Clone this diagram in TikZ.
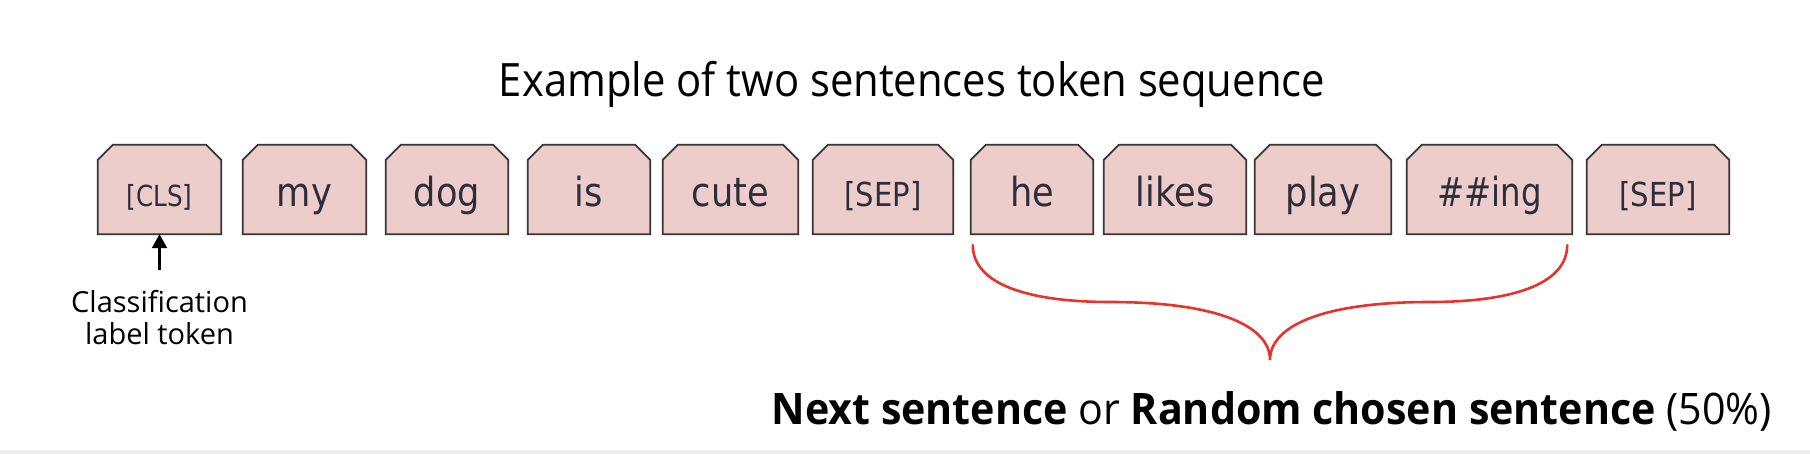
\documentclass[tikz,border=0pt]{standalone}
\usepackage{fontspec}
\usepackage{graphicx}
\setmainfont{Open Sans}
\newfontfamily\tokfont{DejaVu Sans}
\usetikzlibrary{arrows.meta,backgrounds}
\definecolor{tokfill}{HTML}{EDCCCC}
\definecolor{tokline}{HTML}{363636}
\definecolor{toktext}{HTML}{2E2E3A}
\definecolor{bracered}{HTML}{E8322B}
\definecolor{bandgray}{HTML}{EFEFEF}
\newcommand\tokw[2][0.88]{\scalebox{#1}[1]{#2}}
\begin{document}
\begin{tikzpicture}[x=1pt,y=-1pt,
  tok/.style={inner sep=0pt, minimum height=89pt, text height=35pt, text depth=0pt,
    font=\tokfont\fontsize{40}{40}\selectfont, text=toktext},
  smalltok/.style={tok, font=\tokfont\fontsize{29}{29}\selectfont},
  septok/.style={tok, font=\tokfont\fontsize{33}{33}\selectfont},
  tokshape/.style={fill=tokfill, draw=tokline, line width=1.8pt, line join=miter},
  uparrow/.style={line width=2.4pt, -{Triangle[width=15pt,length=14pt]}},
  bracepath/.style={draw=bracered, line width=2.6pt, line cap=round}
]
\begin{scope}[on background layer]
  \fill[white] (0,0) rectangle (1810,454);
  \fill[bandgray] (0,450) rectangle (1810,454);
\end{scope}

% title
\node[anchor=base, inner sep=0pt, font=\fontsize{46}{46}\selectfont] (title) at (912,97)
  {\resizebox{826pt}{\height}{Example of two sentences token sequence}};

% tokens
\node[smalltok, minimum width=123pt] (t1)  at (159.5,189.5) {\tokw[0.85]{[CLS]}};
\node[tok,      minimum width=123pt] (t2)  at (304.5,189.5) {\tokw{my}};
\node[tok,      minimum width=122pt] (t3)  at (447,189.5)   {\tokw{dog}};
\node[tok,      minimum width=122pt] (t4)  at (589,189.5)   {\tokw{is}};
\node[tok,      minimum width=135pt] (t5)  at (730.5,189.5) {\tokw{cute}};
\node[septok,   minimum width=140pt] (t6)  at (883,189.5)   {\tokw{[SEP]}};
\node[tok,      minimum width=122pt] (t7)  at (1032,189.5)  {\tokw{he}};
\node[tok,      minimum width=142pt] (t8)  at (1175,189.5)  {\tokw{likes}};
\node[tok,      minimum width=136pt] (t9)  at (1323,189.5)  {\tokw{play}};
\node[tok,      minimum width=165pt] (t10) at (1489.5,189.5){\tokw[0.81]{\#\#ing}};
\node[septok,   minimum width=142pt] (t11) at (1658,189.5)  {\tokw{[SEP]}};

\begin{scope}[on background layer]
  \foreach \n in {t1,t2,t3,t4,t5,t6,t7,t8,t9,t10,t11}
    \path[tokshape] ([yshift=-15pt]\n.north west) -- ([xshift=15pt]\n.north west)
      -- ([xshift=-15pt]\n.north east) -- ([yshift=-15pt]\n.north east)
      -- (\n.south east) -- (\n.south west) -- cycle;
\end{scope}

% classification label
\node[anchor=north, inner sep=0pt, align=center, font=\fontsize{29}{32}\selectfont] (lab) at (159.5,290.5)
  {Classification\\label token};
\draw[uparrow, shorten <=20pt] (lab.north) -- (t1.south);

% brace
\coordinate (bl) at ([xshift=2pt,yshift=-11pt]t7.south west);
\coordinate (br) at ([xshift=-5pt,yshift=-11pt]t10.south east);
\coordinate (btip) at (1270,360);
\path[bracepath] (bl) .. controls (973,285) and (1030,302) .. (1110,302)
  .. controls (1215,302) and (1270,325) .. (btip)
  .. controls (1270,325) and (1325,302) .. (1430,302)
  .. controls (1510,302) and (1567,285) .. (br);

% bottom text
\node[anchor=base east, inner sep=0pt, font=\fontsize{43.4}{43.4}\selectfont] (note) at (1772,424)
  {\resizebox{1000pt}{\height}{\textbf{Next sentence} or \textbf{Random chosen sentence} (50\%)}};
\end{tikzpicture}
\end{document}
